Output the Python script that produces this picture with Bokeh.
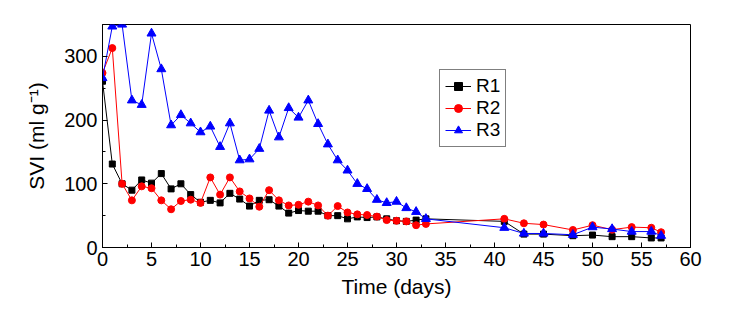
from bokeh.plotting import figure
from bokeh.models import Range1d, SingleIntervalTicker, Legend, LegendItem
from bokeh.embed import file_html
from bokeh.resources import INLINE

days = [0, 1, 2, 3, 4, 5, 6, 7, 8, 9, 10, 11, 12, 13, 14, 15, 16, 17, 18, 19, 20,
        21, 22, 23, 24, 25, 26, 27, 28, 29, 30, 31, 32, 33,
        41, 43, 45, 48, 50, 52, 54, 56, 57]
r1 = [261, 131, 100, 90, 106, 101, 116, 92, 100, 83, 71, 74, 70, 85, 76, 65, 74, 75, 65, 54, 58,
      57, 57, 50, 50, 45, 48, 47, 48, 45, 42, 41, 43, 45,
      41, 21, 21, 18.5, 19.5, 17, 17, 15, 15]
r2 = [274, 313, 100, 74, 96, 93, 74, 60, 73, 75, 70, 110, 83, 110, 88, 77, 64, 90, 74, 66, 67,
      72, 66, 50, 65, 55, 52, 51, 48.5, 43, 42, 41, 35, 37,
      45, 38, 36, 27.5, 35, 28, 32, 31, 24]
r3 = [266, 347, 350, 231, 224, 336, 280, 192, 208, 195, 181, 190, 158, 195, 137, 138.5, 155, 215, 173, 219, 204,
      231, 194, 162, 137, 121, 100, 92, 75, 70, 72, 62, 56, 45,
      31, 22, 22, 20, 32, 29, 25, 25, 18.5]
series_names = ["R1", "R2", "R3"]

FONT = "Liberation Sans"

p = figure(frame_width=588, frame_height=223, output_backend="svg", toolbar_location=None,
           x_range=Range1d(0, 60), y_range=Range1d(0, 350),
           min_border_left=102, min_border_top=24, min_border_right=30, min_border_bottom=62)
p.background_fill_color = "white"
p.border_fill_color = "white"
p.outline_line_color = "black"
p.outline_line_width = 1
p.grid.visible = False

p.xaxis.ticker = SingleIntervalTicker(interval=5, num_minor_ticks=2)
p.yaxis.ticker = SingleIntervalTicker(interval=100, num_minor_ticks=2)
for ax in (p.xaxis, p.yaxis):
    ax.major_tick_in = 5
    ax.major_tick_out = 0
    ax.minor_tick_in = 3
    ax.minor_tick_out = 0
    ax.axis_line_color = "black"
    ax.major_tick_line_color = "black"
    ax.minor_tick_line_color = "black"
    ax.major_label_text_font = FONT
    ax.major_label_text_font_size = "20px"
    ax.major_label_text_color = "black"
    ax.axis_label_text_font = FONT
    ax.axis_label_text_font_size = "21px"
    ax.axis_label_text_font_style = "normal"
    ax.axis_label_text_color = "black"
p.xaxis.axis_label = "Time (days)"
p.yaxis.axis_label = "SVI (ml g\u207b\u00b9)"
p.xaxis.major_label_standoff = 4
p.yaxis.major_label_standoff = 5
p.xaxis.axis_label_standoff = 6
p.yaxis.axis_label_standoff = 13

l1 = p.line(days, r1, line_color="black", line_width=1)
m1 = p.scatter(days, r1, marker="square", size=6, fill_color="black", line_color="black")
l2 = p.line(days, r2, line_color="red", line_width=1)
m2 = p.scatter(days, r2, marker="circle", size=7, fill_color="red", line_color="red")
l3 = p.line(days, r3, line_color="blue", line_width=1)
m3 = p.scatter(days, r3, marker="triangle", size=9, fill_color="blue", line_color="blue")

legend = Legend(items=[LegendItem(label=series_names[0], renderers=[l1, m1]),
                       LegendItem(label=series_names[1], renderers=[l2, m2]),
                       LegendItem(label=series_names[2], renderers=[l3, m3])],
                location=(337, 100))
legend.label_text_font = FONT
legend.label_text_font_size = "19px"
legend.label_text_color = "black"
legend.glyph_width = 26
legend.glyph_height = 20
legend.label_height = 20
legend.label_standoff = 5
legend.spacing = 0
legend.padding = 5
legend.margin = 0
legend.border_line_color = "black"
legend.border_line_width = 1
legend.background_fill_alpha = 1
p.add_layout(legend, "center")

open("out.html", "w").write(file_html(p, INLINE))
